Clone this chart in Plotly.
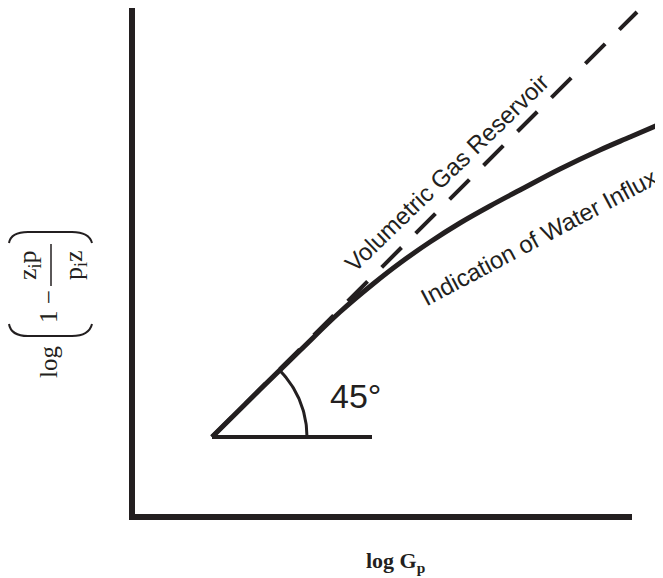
import numpy as np
import plotly.graph_objects as go

# ---- data (log units, arbitrary) ----
volumetric_log_gp = [1.6, 10.1]
volumetric_log_p = [1.6, 10.1]
water_log_gp = [1.6, 2.56, 3.36, 4.16, 4.82, 5.36, 5.96, 6.56, 7.16, 7.76, 8.56, 9.36, 9.96, 10.56]
water_log_p = [1.6, 2.55, 3.33, 4.1, 4.66, 5.08, 5.5, 5.88, 6.22, 6.54, 6.96, 7.34, 7.6, 7.86]
angle_ref_x = [1.6, 4.8]
angle_ref_y = [1.6, 1.6]
arc_radius = 1.9
axis_x_end = 10.0

INK = "#231f20"
OFF = 8  # page body margin
W, H = 663 - OFF, 578 - OFF
ML, MR, MT, MB = 118, 0, 0, 55
PW, PH = W - ML - MR, H - MT - MB
SCALE = 50.0
x0 = -(132 - OFF - ML) / SCALE
y0 = -((H - MB) - (517 - OFF)) / SCALE
axis_y_end = y0 + PH / SCALE

def px(p):
    return (p - OFF - ML) / PW

def py(p):
    return (H - MB - (p - OFF)) / PH

fig = go.Figure()

# axes
fig.add_trace(go.Scatter(x=[0, 0, axis_x_end], y=[axis_y_end, 0, 0], mode="lines",
                         line=dict(color=INK, width=6), hoverinfo="skip"))
# volumetric (dashed)
fig.add_trace(go.Scatter(x=volumetric_log_gp, y=volumetric_log_p, mode="lines",
                         line=dict(color=INK, width=4, dash="28px,20px"), hoverinfo="skip"))
# water influx curve
fig.add_trace(go.Scatter(x=water_log_gp, y=water_log_p, mode="lines",
                         line=dict(color=INK, width=5, shape="spline", smoothing=1.0), hoverinfo="skip"))
# horizontal reference
fig.add_trace(go.Scatter(x=angle_ref_x, y=angle_ref_y, mode="lines",
                         line=dict(color=INK, width=4), hoverinfo="skip"))
# angle arc
th = np.radians(np.linspace(0, 45, 40))
fig.add_trace(go.Scatter(x=angle_ref_x[0] + arc_radius * np.cos(th),
                         y=angle_ref_y[0] + arc_radius * np.sin(th), mode="lines",
                         line=dict(color=INK, width=3), hoverinfo="skip"))

def path(points):
    s = "M {:.4f},{:.4f}".format(px(points[0][0]), py(points[0][1]))
    i = 1
    while i < len(points):
        kind = points[i]
        if kind == "Q":
            (ax, ay), (bx, by) = points[i + 1], points[i + 2]
            s += " Q {:.4f},{:.4f} {:.4f},{:.4f}".format(px(ax), py(ay), px(bx), py(by))
            i += 3
        else:
            s += " L {:.4f},{:.4f}".format(px(kind[0]), py(kind[1]))
            i += 1
    return s

shapes = [
    dict(type="path", xref="paper", yref="paper",
         path=path([(9, 324), "Q", (11, 336), (28, 336), (72, 336), "Q", (89, 336), (92, 324)]),
         line=dict(color=INK, width=2)),
    dict(type="path", xref="paper", yref="paper",
         path=path([(9, 243), "Q", (11, 232), (28, 232), (72, 232), "Q", (89, 232), (92, 243)]),
         line=dict(color=INK, width=2)),
    dict(type="line", xref="paper", yref="paper", x0=px(51), x1=px(51), y0=py(244), y1=py(286),
         line=dict(color=INK, width=1.5)),
]

def ann(text, x, y, size, family, angle=0):
    return dict(text=text, x=px(x), y=py(y), xref="paper", yref="paper", showarrow=False,
                xanchor="center", yanchor="middle", textangle=angle,
                font=dict(size=size, family=family, color=INK))

SANS = "Liberation Sans, Arial, sans-serif"
SERIF = "Liberation Serif, Times New Roman, serif"
annotations = [
    ann("45°", 355, 396, 34, SANS),
    ann("Volumetric Gas Reservoir", 447, 173, 24, SANS, -44),
    ann("Indication of Water Influx", 538, 237, 24, SANS, -28),
    ann("log", 48, 362, 25, SERIF, -90),
    ann("1 −", 48, 306, 25, SERIF, -90),
    ann("z<sub>i</sub>p", 29, 265, 26, SERIF, -90),
    ann("p<sub>i</sub>z", 75, 265, 26, SERIF, -90),
    ann("<b>log G<sub>p</sub></b>", 395, 562, 22, SERIF),
]

fig.update_layout(
    width=W, height=H, margin=dict(l=ML, r=MR, t=MT, b=MB),
    paper_bgcolor="white", plot_bgcolor="white", showlegend=False,
    xaxis=dict(visible=False, range=[x0, x0 + PW / SCALE], fixedrange=True),
    yaxis=dict(visible=False, range=[y0, y0 + PH / SCALE], fixedrange=True),
    shapes=shapes, annotations=annotations,
)

fig.write_html("out.html")
